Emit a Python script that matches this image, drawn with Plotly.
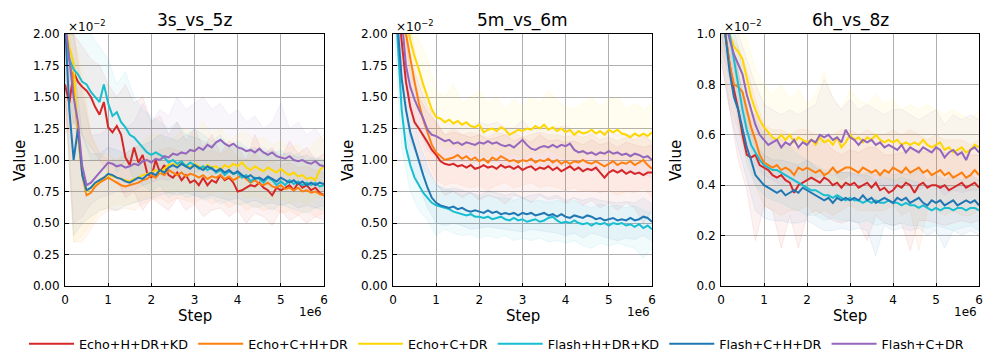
import plotly.graph_objects as go

# Step axis, one sample every 0.1e6 for the smoothed curves, 0.2e6 for the spread bands
STEPS = [i * 100000 for i in range(61)]
BAND_STEPS = [i * 200000 for i in range(31)]

SERIES_NAMES = ["Echo+H+DR+KD", "Echo+C+H+DR", "Echo+C+DR",
                "Flash+H+DR+KD", "Flash+C+H+DR", "Flash+C+DR"]
COLORS = ["#d62728", "#ff7f0e", "#ffd700", "#17becf", "#1f77b4", "#9467bd"]
BAND_RGB = ["214,39,40", "255,127,14", "255,215,0", "23,190,207", "31,119,180", "148,103,189"]
PANEL_TITLES = ["3s_vs_5z", "5m_vs_6m", "6h_vs_8z"]

# ---- 3s_vs_5z (values x1e-2) ----
A_RED = [1.60, 1.45, 1.70, 1.62, 1.58, 1.55, 1.50, 1.42, 1.36, 1.46, 1.26, 1.22, 1.27, 1.20, 1.02, 0.96,
         1.10, 0.98, 1.04, 0.90, 0.86, 1.00, 0.90, 0.96, 0.88, 0.86, 0.90, 0.84, 0.88, 0.82, 0.84, 0.80,
         0.86, 0.80, 0.84, 0.82, 0.88, 0.84, 0.86, 0.82, 0.75, 0.76, 0.78, 0.80, 0.79, 0.82, 0.78, 0.76,
         0.72, 0.78, 0.76, 0.78, 0.80, 0.76, 0.82, 0.78, 0.80, 0.76, 0.78, 0.74, 0.72]
A_ORANGE = [2.10, 1.80, 1.60, 1.20, 0.88, 0.72, 0.74, 0.79, 0.82, 0.84, 0.86, 0.84, 0.82, 0.80, 0.79, 0.80,
            0.81, 0.82, 0.84, 0.85, 0.88, 0.86, 0.90, 0.88, 0.92, 0.90, 0.88, 0.90, 0.87, 0.89, 0.88, 0.86,
            0.88, 0.85, 0.87, 0.86, 0.88, 0.85, 0.87, 0.84, 0.86, 0.88, 0.85, 0.82, 0.84, 0.81, 0.80, 0.82,
            0.79, 0.78, 0.80, 0.77, 0.78, 0.76, 0.78, 0.75, 0.76, 0.74, 0.75, 0.73, 0.72]
A_YELLOW = [2.10, 1.90, 1.76, 1.20, 0.90, 0.75, 0.78, 0.81, 0.84, 0.86, 0.88, 0.87, 0.86, 0.85, 0.84, 0.83,
            0.85, 0.86, 0.88, 0.89, 0.90, 0.92, 0.90, 0.93, 0.96, 0.97, 0.95, 0.98, 0.96, 0.94, 0.97, 0.95,
            0.93, 0.96, 0.94, 0.95, 0.92, 0.96, 0.94, 0.97, 0.95, 0.98, 0.94, 0.92, 0.95, 0.93, 0.91, 0.94,
            0.92, 0.90, 0.93, 0.90, 0.88, 0.90, 0.87, 0.88, 0.85, 0.86, 0.84, 0.92, 0.95]
A_CYAN = [2.10, 1.80, 1.72, 1.68, 1.62, 1.60, 1.54, 1.50, 1.46, 1.60, 1.45, 1.35, 1.38, 1.30, 1.26, 1.20,
          1.18, 1.14, 1.10, 1.06, 1.04, 1.06, 1.04, 1.02, 0.98, 1.00, 0.97, 0.99, 0.95, 0.98, 0.96, 0.93,
          0.95, 0.92, 0.94, 0.90, 0.92, 0.88, 0.91, 0.89, 0.90, 0.86, 0.88, 0.83, 0.86, 0.85, 0.82, 0.86,
          0.84, 0.80, 0.83, 0.80, 0.84, 0.81, 0.83, 0.80, 0.82, 0.80, 0.82, 0.79, 0.80]
A_BLUE = [2.10, 1.40, 1.00, 1.25, 0.88, 0.76, 0.78, 0.82, 0.84, 0.86, 0.89, 0.88, 0.86, 0.85, 0.83, 0.82,
          0.84, 0.86, 0.85, 0.88, 0.90, 0.88, 0.92, 0.90, 0.94, 0.96, 0.94, 0.97, 0.95, 0.93, 0.96, 0.94,
          0.92, 0.95, 0.93, 0.91, 0.93, 0.90, 0.92, 0.89, 0.91, 0.88, 0.86, 0.88, 0.85, 0.86, 0.84, 0.87,
          0.85, 0.83, 0.86, 0.84, 0.82, 0.84, 0.81, 0.83, 0.80, 0.82, 0.80, 0.82, 0.81]
A_PURPLE = [2.10, 1.80, 1.50, 1.30, 0.95, 0.80, 0.82, 0.86, 0.90, 0.94, 0.98, 0.97, 0.95, 0.96, 0.94, 0.95,
            0.97, 0.96, 0.99, 1.00, 0.98, 1.01, 1.00, 1.03, 1.02, 1.05, 1.04, 1.06, 1.05, 1.08, 1.07, 1.10,
            1.08, 1.12, 1.10, 1.14, 1.16, 1.13, 1.11, 1.13, 1.10, 1.09, 1.07, 1.08, 1.06, 1.09, 1.06, 1.04,
            1.06, 1.03, 1.02, 1.01, 1.03, 1.00, 0.99, 1.00, 0.98, 0.97, 0.99, 0.96, 0.95]

A_RED_LO = [1.2, 1.3, 1.2, 1.1, 1.0, 0.9, 0.85, 0.7, 0.75, 0.6, 0.7, 0.65, 0.6, 0.7, 0.6, 0.65,
            0.55, 0.6, 0.62, 0.55, 0.6, 0.5, 0.58, 0.55, 0.48, 0.6, 0.52, 0.56, 0.5, 0.55, 0.52]
A_RED_HI = [2.0, 2.0, 1.9, 1.8, 1.75, 1.6, 1.5, 1.6, 1.45, 1.5, 1.3, 1.35, 1.2, 1.3, 1.15, 1.25,
            1.1, 1.2, 1.05, 1.15, 1.1, 1.0, 1.2, 1.05, 1.1, 1.0, 1.15, 1.05, 1.1, 1.0, 1.05]
A_ORANGE_LO = [1.5, 0.35, 0.35, 0.45, 0.55, 0.6, 0.6, 0.62, 0.6, 0.65, 0.68, 0.7, 0.66, 0.7, 0.68, 0.66,
               0.7, 0.65, 0.68, 0.62, 0.66, 0.6, 0.64, 0.6, 0.62, 0.58, 0.6, 0.56, 0.6, 0.55, 0.58]
A_ORANGE_HI = [2.0, 2.0, 1.6, 1.2, 1.05, 1.0, 1.0, 1.05, 1.0, 1.0, 1.05, 1.08, 1.1, 1.08, 1.05, 1.1,
               1.06, 1.08, 1.04, 1.1, 1.02, 1.0, 1.05, 0.98, 1.0, 0.96, 0.98, 0.94, 0.95, 0.92, 0.9]
A_YELLOW_LO = [1.6, 0.35, 0.4, 0.5, 0.6, 0.62, 0.65, 0.64, 0.66, 0.7, 0.72, 0.75, 0.74, 0.76, 0.74, 0.77,
               0.75, 0.73, 0.76, 0.72, 0.74, 0.7, 0.72, 0.7, 0.68, 0.7, 0.66, 0.68, 0.65, 0.7, 0.72]
A_YELLOW_HI = [2.0, 2.0, 1.7, 1.2, 1.05, 1.05, 1.0, 1.05, 1.1, 1.15, 1.2, 1.2, 1.15, 1.2, 1.25, 1.2,
               1.3, 1.2, 1.25, 1.15, 1.2, 1.22, 1.15, 1.18, 1.12, 1.15, 1.1, 1.12, 1.05, 1.15, 1.2]
A_CYAN_LO = [1.6, 1.3, 1.2, 1.0, 1.0, 1.1, 0.9, 1.0, 0.85, 0.8, 0.75, 0.8, 0.7, 0.75, 0.7, 0.72,
             0.68, 0.7, 0.65, 0.68, 0.64, 0.66, 0.62, 0.64, 0.6, 0.65, 0.62, 0.6, 0.58, 0.62, 0.6]
A_CYAN_HI = [2.0, 2.0, 2.0, 2.0, 1.9, 1.8, 1.6, 1.7, 1.5, 1.4, 1.35, 1.3, 1.25, 1.3, 1.2, 1.25,
             1.2, 1.15, 1.2, 1.1, 1.15, 1.1, 1.05, 1.1, 1.05, 1.08, 1.02, 1.05, 1.0, 1.02, 1.0]
A_BLUE_LO = [1.5, 0.4, 0.5, 0.55, 0.6, 0.62, 0.6, 0.64, 0.66, 0.68, 0.7, 0.72, 0.74, 0.72, 0.74, 0.72,
             0.7, 0.72, 0.7, 0.68, 0.7, 0.66, 0.68, 0.65, 0.66, 0.64, 0.66, 0.62, 0.64, 0.62, 0.64]
A_BLUE_HI = [2.0, 1.8, 1.2, 1.05, 1.05, 1.1, 1.08, 1.05, 1.1, 1.12, 1.15, 1.2, 1.18, 1.15, 1.2, 1.18,
             1.15, 1.12, 1.15, 1.1, 1.12, 1.08, 1.1, 1.05, 1.08, 1.04, 1.06, 1.02, 1.04, 1.0, 1.0]
A_PURPLE_LO = [1.6, 0.5, 0.55, 0.65, 0.7, 0.72, 0.75, 0.74, 0.76, 0.8, 0.82, 0.85, 0.84, 0.88, 0.86, 0.9,
               0.92, 0.88, 0.9, 0.86, 0.88, 0.85, 0.84, 0.82, 0.8, 0.82, 0.78, 0.8, 0.76, 0.78, 0.75]
A_PURPLE_HI = [2.0, 2.0, 1.5, 1.2, 1.2, 1.25, 1.2, 1.25, 1.3, 1.45, 1.3, 1.4, 1.35, 1.5, 1.4, 1.45,
               1.5, 1.4, 1.45, 1.35, 1.4, 1.3, 1.35, 1.25, 1.3, 1.45, 1.25, 1.3, 1.2, 1.25, 1.15]

# ---- 5m_vs_6m (values x1e-2) ----
B_RED = [2.80, 2.30, 1.95, 1.62, 1.42, 1.30, 1.25, 1.20, 1.14, 1.08, 1.04, 0.99, 0.97, 0.96, 0.97, 0.95,
         0.96, 0.94, 0.96, 0.93, 0.94, 0.96, 0.94, 0.95, 0.93, 0.96, 0.94, 0.95, 0.93, 0.95, 0.92, 0.94,
         0.95, 0.92, 0.94, 0.93, 0.95, 0.92, 0.94, 0.91, 0.93, 0.95, 0.92, 0.94, 0.91, 0.93, 0.92, 0.94,
         0.90, 0.86, 0.90, 0.92, 0.90, 0.92, 0.89, 0.91, 0.89, 0.90, 0.88, 0.90, 0.90]
B_ORANGE = [2.90, 2.50, 2.20, 2.00, 1.80, 1.62, 1.45, 1.32, 1.22, 1.12, 1.06, 1.03, 1.00, 1.01, 1.02, 1.04,
            1.01, 1.03, 1.00, 1.02, 0.99, 1.01, 0.98, 1.02, 1.00, 1.03, 1.01, 0.99, 1.00, 0.98, 1.00, 0.99,
            1.01, 0.98, 1.00, 0.99, 1.01, 0.98, 1.00, 0.97, 0.99, 0.97, 0.99, 0.98, 1.00, 0.98, 0.97, 0.99,
            0.97, 0.95, 0.97, 0.99, 0.96, 0.98, 0.97, 0.99, 0.96, 0.98, 1.00, 0.96, 0.93]
B_YELLOW = [3.00, 2.80, 2.50, 2.15, 1.95, 1.82, 1.72, 1.60, 1.50, 1.40, 1.34, 1.33, 1.30, 1.32, 1.29, 1.31,
            1.28, 1.30, 1.27, 1.26, 1.28, 1.22, 1.24, 1.25, 1.23, 1.26, 1.24, 1.20, 1.22, 1.24, 1.23, 1.25,
            1.24, 1.27, 1.25, 1.28, 1.24, 1.26, 1.23, 1.25, 1.22, 1.24, 1.20, 1.23, 1.21, 1.22, 1.24, 1.21,
            1.23, 1.20, 1.24, 1.22, 1.24, 1.21, 1.20, 1.18, 1.21, 1.19, 1.21, 1.19, 1.22]
B_CYAN = [2.60, 2.00, 1.40, 1.10, 0.96, 0.86, 0.80, 0.74, 0.70, 0.66, 0.64, 0.63, 0.62, 0.61, 0.59, 0.58,
          0.57, 0.56, 0.57, 0.55, 0.55, 0.54, 0.55, 0.53, 0.54, 0.55, 0.53, 0.52, 0.54, 0.52, 0.53, 0.51,
          0.52, 0.53, 0.51, 0.52, 0.54, 0.55, 0.52, 0.50, 0.51, 0.50, 0.52, 0.50, 0.49, 0.50, 0.48, 0.50,
          0.49, 0.50, 0.48, 0.50, 0.49, 0.50, 0.48, 0.49, 0.47, 0.49, 0.46, 0.48, 0.45]
B_BLUE = [2.70, 2.10, 1.65, 1.40, 1.22, 1.10, 0.98, 0.88, 0.78, 0.70, 0.66, 0.64, 0.63, 0.62, 0.63, 0.61,
          0.62, 0.60, 0.59, 0.60, 0.59, 0.58, 0.60, 0.58, 0.59, 0.57, 0.58, 0.57, 0.58, 0.56, 0.58, 0.57,
          0.58, 0.56, 0.57, 0.58, 0.56, 0.57, 0.55, 0.57, 0.55, 0.54, 0.56, 0.55, 0.54, 0.56, 0.55, 0.53,
          0.54, 0.52, 0.53, 0.54, 0.52, 0.53, 0.52, 0.54, 0.52, 0.53, 0.55, 0.54, 0.51]
B_PURPLE = [2.90, 2.50, 2.10, 1.75, 1.58, 1.48, 1.40, 1.33, 1.24, 1.20, 1.19, 1.17, 1.15, 1.16, 1.13, 1.14,
            1.12, 1.14, 1.13, 1.12, 1.14, 1.13, 1.15, 1.13, 1.14, 1.12, 1.11, 1.12, 1.10, 1.13, 1.16, 1.12,
            1.09, 1.08, 1.10, 1.11, 1.10, 1.12, 1.10, 1.12, 1.11, 1.13, 1.08, 1.06, 1.07, 1.05, 1.06, 1.04,
            1.06, 1.05, 1.07, 1.05, 1.06, 1.04, 1.05, 1.03, 1.05, 1.04, 1.02, 1.03, 1.00]

B_RED_LO = [2.4, 1.6, 1.15, 1.0, 0.9, 0.82, 0.72, 0.75, 0.7, 0.74, 0.68, 0.72, 0.7, 0.65, 0.72, 0.7,
            0.66, 0.72, 0.68, 0.7, 0.66, 0.7, 0.64, 0.68, 0.62, 0.66, 0.6, 0.66, 0.62, 0.5, 0.6]
B_RED_HI = [3.0, 2.3, 1.7, 1.5, 1.38, 1.3, 1.2, 1.22, 1.2, 1.18, 1.2, 1.16, 1.18, 1.2, 1.15, 1.18,
            1.14, 1.2, 1.15, 1.16, 1.14, 1.15, 1.12, 1.16, 1.12, 1.14, 1.1, 1.14, 1.12, 1.1, 1.12]
B_ORANGE_LO = [2.5, 1.9, 1.5, 1.2, 1.0, 0.85, 0.8, 0.82, 0.8, 0.78, 0.8, 0.76, 0.8, 0.82, 0.78, 0.8,
               0.82, 0.78, 0.8, 0.78, 0.76, 0.78, 0.75, 0.76, 0.74, 0.76, 0.72, 0.75, 0.74, 0.78, 0.7]
B_ORANGE_HI = [3.0, 2.5, 2.05, 1.7, 1.45, 1.28, 1.2, 1.25, 1.2, 1.22, 1.2, 1.18, 1.22, 1.2, 1.22, 1.18,
               1.2, 1.22, 1.2, 1.2, 1.18, 1.2, 1.18, 1.2, 1.16, 1.18, 1.15, 1.18, 1.16, 1.2, 1.14]
B_YELLOW_LO = [2.6, 2.2, 1.7, 1.5, 1.3, 1.15, 1.1, 1.12, 1.08, 1.1, 1.05, 1.02, 1.08, 1.04, 1.05, 1.02,
               1.06, 1.05, 1.08, 1.04, 1.02, 1.0, 1.03, 1.05, 1.02, 1.04, 1.0, 0.98, 1.0, 0.96, 1.0]
B_YELLOW_HI = [3.0, 2.8, 2.2, 1.95, 1.8, 1.55, 1.5, 1.6, 1.45, 1.5, 1.55, 1.45, 1.5, 1.4, 1.48, 1.42,
               1.5, 1.45, 1.55, 1.48, 1.42, 1.4, 1.45, 1.5, 1.42, 1.48, 1.5, 1.4, 1.45, 1.4, 1.45]
B_CYAN_LO = [2.2, 1.1, 0.75, 0.6, 0.52, 0.4, 0.45, 0.42, 0.4, 0.41, 0.38, 0.4, 0.38, 0.4, 0.36, 0.38,
             0.36, 0.38, 0.35, 0.36, 0.34, 0.36, 0.32, 0.3, 0.34, 0.32, 0.34, 0.32, 0.3, 0.22, 0.3]
B_CYAN_HI = [3.0, 1.7, 1.2, 1.0, 0.88, 0.8, 0.78, 0.75, 0.72, 0.74, 0.7, 0.72, 0.7, 0.7, 0.68, 0.7,
             0.67, 0.68, 0.66, 0.68, 0.66, 0.68, 0.64, 0.62, 0.65, 0.63, 0.64, 0.62, 0.64, 0.6, 0.58]
B_BLUE_LO = [2.3, 1.4, 1.0, 0.8, 0.62, 0.5, 0.48, 0.5, 0.48, 0.45, 0.46, 0.47, 0.46, 0.45, 0.44, 0.43,
             0.45, 0.44, 0.43, 0.42, 0.4, 0.42, 0.38, 0.42, 0.4, 0.38, 0.36, 0.38, 0.37, 0.4, 0.36]
B_BLUE_HI = [3.0, 1.9, 1.45, 1.15, 0.95, 0.8, 0.76, 0.78, 0.76, 0.74, 0.72, 0.75, 0.74, 0.72, 0.74, 0.7,
             0.72, 0.73, 0.7, 0.72, 0.68, 0.7, 0.68, 0.7, 0.68, 0.67, 0.66, 0.67, 0.66, 0.7, 0.65]
B_PURPLE_LO = [2.5, 1.8, 1.4, 1.25, 1.08, 1.02, 1.0, 0.98, 0.99, 0.97, 1.0, 0.98, 0.99, 0.96, 0.95, 1.0,
               0.94, 0.95, 0.96, 0.95, 0.96, 0.93, 0.92, 0.91, 0.92, 0.93, 0.9, 0.91, 0.9, 0.89, 0.86]
B_PURPLE_HI = [3.0, 2.4, 1.8, 1.6, 1.42, 1.35, 1.3, 1.28, 1.3, 1.27, 1.3, 1.28, 1.3, 1.26, 1.25, 1.32,
               1.24, 1.26, 1.25, 1.26, 1.27, 1.23, 1.22, 1.21, 1.22, 1.23, 1.2, 1.2, 1.2, 1.19, 1.15]

# ---- 6h_vs_8z (values x1e-2) ----
C_RED = [1.10, 1.00, 0.88, 0.78, 0.70, 0.60, 0.52, 0.51, 0.52, 0.48, 0.47, 0.46, 0.44, 0.43, 0.44, 0.42,
         0.41, 0.37, 0.40, 0.41, 0.42, 0.43, 0.42, 0.41, 0.43, 0.42, 0.40, 0.41, 0.39, 0.41, 0.40, 0.41,
         0.39, 0.40, 0.41, 0.39, 0.41, 0.38, 0.39, 0.37, 0.38, 0.40, 0.39, 0.41, 0.40, 0.37, 0.40, 0.41,
         0.39, 0.40, 0.40, 0.39, 0.40, 0.38, 0.39, 0.40, 0.41, 0.39, 0.40, 0.41, 0.39]
C_ORANGE = [1.15, 1.00, 0.88, 0.80, 0.79, 0.77, 0.70, 0.63, 0.58, 0.52, 0.49, 0.48, 0.47, 0.48, 0.46, 0.47,
            0.46, 0.44, 0.47, 0.46, 0.47, 0.46, 0.45, 0.46, 0.44, 0.45, 0.47, 0.45, 0.46, 0.47, 0.47, 0.46,
            0.45, 0.47, 0.46, 0.45, 0.46, 0.44, 0.46, 0.45, 0.47, 0.46, 0.45, 0.47, 0.45, 0.46, 0.47, 0.45,
            0.46, 0.44, 0.45, 0.46, 0.44, 0.45, 0.43, 0.44, 0.45, 0.43, 0.44, 0.46, 0.44]
C_YELLOW = [1.20, 1.10, 1.00, 0.95, 0.93, 0.90, 0.82, 0.75, 0.70, 0.66, 0.63, 0.61, 0.59, 0.58, 0.60, 0.58,
            0.60, 0.57, 0.59, 0.58, 0.57, 0.58, 0.56, 0.59, 0.57, 0.58, 0.56, 0.59, 0.55, 0.57, 0.60, 0.58,
            0.59, 0.57, 0.59, 0.58, 0.60, 0.58, 0.57, 0.58, 0.57, 0.58, 0.56, 0.57, 0.56, 0.57, 0.56, 0.58,
            0.56, 0.55, 0.56, 0.57, 0.54, 0.55, 0.53, 0.54, 0.55, 0.53, 0.54, 0.56, 0.55]
C_CYAN = [1.20, 1.10, 1.00, 0.90, 0.80, 0.70, 0.62, 0.56, 0.53, 0.50, 0.48, 0.47, 0.46, 0.46, 0.45, 0.44,
          0.43, 0.42, 0.41, 0.40, 0.39, 0.38, 0.38, 0.37, 0.36, 0.36, 0.35, 0.36, 0.35, 0.34, 0.35, 0.34,
          0.34, 0.33, 0.34, 0.33, 0.34, 0.33, 0.33, 0.34, 0.33, 0.33, 0.32, 0.33, 0.32, 0.32, 0.31, 0.32,
          0.31, 0.30, 0.31, 0.30, 0.31, 0.31, 0.30, 0.31, 0.31, 0.30, 0.31, 0.31, 0.30]
C_BLUE = [1.10, 1.00, 0.85, 0.75, 0.70, 0.62, 0.55, 0.50, 0.44, 0.42, 0.40, 0.39, 0.38, 0.37, 0.38, 0.36,
          0.37, 0.38, 0.37, 0.39, 0.38, 0.37, 0.36, 0.35, 0.34, 0.35, 0.33, 0.35, 0.34, 0.35, 0.34, 0.35,
          0.34, 0.36, 0.34, 0.35, 0.33, 0.34, 0.35, 0.34, 0.33, 0.35, 0.34, 0.35, 0.33, 0.34, 0.35, 0.33,
          0.32, 0.34, 0.33, 0.34, 0.32, 0.33, 0.34, 0.32, 0.33, 0.34, 0.33, 0.34, 0.32]
C_PURPLE = [1.15, 1.05, 0.98, 0.92, 0.88, 0.84, 0.76, 0.70, 0.64, 0.60, 0.58, 0.56, 0.57, 0.58, 0.55, 0.57,
            0.56, 0.58, 0.55, 0.57, 0.56, 0.58, 0.57, 0.60, 0.59, 0.60, 0.58, 0.59, 0.57, 0.62, 0.59, 0.58,
            0.56, 0.58, 0.57, 0.58, 0.56, 0.57, 0.55, 0.56, 0.55, 0.54, 0.56, 0.53, 0.55, 0.54, 0.53, 0.55,
            0.54, 0.53, 0.55, 0.54, 0.51, 0.53, 0.54, 0.52, 0.53, 0.50, 0.54, 0.55, 0.53]

C_RED_LO = [0.9, 0.7, 0.5, 0.38, 0.18, 0.32, 0.3, 0.15, 0.28, 0.15, 0.28, 0.3, 0.28, 0.26, 0.25, 0.26,
            0.25, 0.18, 0.28, 0.25, 0.24, 0.25, 0.14, 0.26, 0.26, 0.25, 0.24, 0.25, 0.26, 0.25, 0.26]
C_RED_HI = [1.2, 1.0, 0.85, 0.68, 0.68, 0.62, 0.58, 0.58, 0.56, 0.54, 0.56, 0.56, 0.58, 0.54, 0.52, 0.54,
            0.53, 0.55, 0.55, 0.52, 0.52, 0.53, 0.54, 0.54, 0.53, 0.54, 0.53, 0.52, 0.54, 0.52, 0.52]
C_ORANGE_LO = [0.95, 0.72, 0.62, 0.52, 0.4, 0.32, 0.3, 0.28, 0.3, 0.3, 0.32, 0.28, 0.3, 0.28, 0.3, 0.32,
               0.3, 0.3, 0.3, 0.3, 0.32, 0.28, 0.3, 0.14, 0.3, 0.3, 0.28, 0.3, 0.28, 0.28, 0.3]
C_ORANGE_HI = [1.2, 1.0, 0.95, 0.86, 0.74, 0.64, 0.62, 0.62, 0.6, 0.62, 0.62, 0.6, 0.58, 0.6, 0.62, 0.62,
               0.6, 0.62, 0.6, 0.6, 0.62, 0.6, 0.62, 0.6, 0.58, 0.6, 0.58, 0.58, 0.58, 0.56, 0.58]
C_YELLOW_LO = [1.0, 0.85, 0.78, 0.65, 0.55, 0.48, 0.45, 0.46, 0.45, 0.44, 0.42, 0.43, 0.44, 0.42, 0.4, 0.45,
               0.44, 0.42, 0.44, 0.43, 0.42, 0.41, 0.42, 0.41, 0.42, 0.4, 0.4, 0.39, 0.4, 0.38, 0.4]
C_YELLOW_HI = [1.2, 1.1, 1.05, 0.98, 0.86, 0.8, 0.76, 0.8, 0.74, 0.78, 0.72, 0.76, 0.85, 0.74, 0.7, 0.78,
               0.74, 0.72, 0.76, 0.72, 0.74, 0.7, 0.72, 0.7, 0.72, 0.7, 0.68, 0.7, 0.68, 0.66, 0.7]
C_CYAN_LO = [1.0, 0.85, 0.65, 0.48, 0.4, 0.36, 0.34, 0.33, 0.31, 0.3, 0.28, 0.28, 0.26, 0.27, 0.26, 0.26,
             0.25, 0.26, 0.24, 0.25, 0.24, 0.25, 0.24, 0.24, 0.23, 0.24, 0.23, 0.22, 0.23, 0.24, 0.22]
C_CYAN_HI = [1.2, 1.1, 0.95, 0.76, 0.66, 0.6, 0.58, 0.56, 0.55, 0.52, 0.5, 0.48, 0.46, 0.46, 0.45, 0.45,
             0.44, 0.44, 0.42, 0.43, 0.42, 0.43, 0.42, 0.41, 0.4, 0.4, 0.4, 0.39, 0.4, 0.4, 0.38]
C_BLUE_LO = [0.9, 0.7, 0.55, 0.42, 0.3, 0.27, 0.26, 0.26, 0.25, 0.25, 0.26, 0.24, 0.22, 0.22, 0.23, 0.22,
             0.23, 0.22, 0.12, 0.24, 0.22, 0.23, 0.22, 0.23, 0.2, 0.22, 0.15, 0.22, 0.2, 0.22, 0.2]
C_BLUE_HI = [1.2, 1.0, 0.85, 0.68, 0.56, 0.52, 0.5, 0.5, 0.49, 0.48, 0.5, 0.47, 0.45, 0.44, 0.45, 0.45,
             0.44, 0.45, 0.44, 0.46, 0.44, 0.45, 0.44, 0.46, 0.42, 0.44, 0.42, 0.44, 0.42, 0.44, 0.42]
C_PURPLE_LO = [0.95, 0.82, 0.72, 0.6, 0.48, 0.44, 0.42, 0.4, 0.42, 0.4, 0.42, 0.43, 0.44, 0.45, 0.42, 0.44,
               0.41, 0.42, 0.41, 0.4, 0.4, 0.41, 0.4, 0.38, 0.4, 0.4, 0.36, 0.38, 0.37, 0.38, 0.38]
C_PURPLE_HI = [1.2, 1.1, 1.0, 0.9, 0.8, 0.72, 0.7, 0.68, 0.7, 0.68, 0.7, 0.72, 0.82, 0.75, 0.7, 0.74,
               0.7, 0.72, 0.7, 0.68, 0.7, 0.7, 0.68, 0.66, 0.68, 0.7, 0.64, 0.68, 0.66, 0.68, 0.66]

PANEL_DATA = [
    [A_RED, A_ORANGE, A_YELLOW, A_CYAN, A_BLUE, A_PURPLE],
    [B_RED, B_ORANGE, B_YELLOW, B_CYAN, B_BLUE, B_PURPLE],
    [C_RED, C_ORANGE, C_YELLOW, C_CYAN, C_BLUE, C_PURPLE],
]
PANEL_LO = [
    [A_RED_LO, A_ORANGE_LO, A_YELLOW_LO, A_CYAN_LO, A_BLUE_LO, A_PURPLE_LO],
    [B_RED_LO, B_ORANGE_LO, B_YELLOW_LO, B_CYAN_LO, B_BLUE_LO, B_PURPLE_LO],
    [C_RED_LO, C_ORANGE_LO, C_YELLOW_LO, C_CYAN_LO, C_BLUE_LO, C_PURPLE_LO],
]
PANEL_HI = [
    [A_RED_HI, A_ORANGE_HI, A_YELLOW_HI, A_CYAN_HI, A_BLUE_HI, A_PURPLE_HI],
    [B_RED_HI, B_ORANGE_HI, B_YELLOW_HI, B_CYAN_HI, B_BLUE_HI, B_PURPLE_HI],
    [C_RED_HI, C_ORANGE_HI, C_YELLOW_HI, C_CYAN_HI, C_BLUE_HI, C_PURPLE_HI],
]
Y_MAX = [2.0, 2.0, 1.0]
Y_TICKS = [[0, 0.25, 0.5, 0.75, 1.0, 1.25, 1.5, 1.75, 2.0],
           [0, 0.25, 0.5, 0.75, 1.0, 1.25, 1.5, 1.75, 2.0],
           [0, 0.2, 0.4, 0.6, 0.8, 1.0]]
Y_FMT = [".2f", ".2f", ".1f"]
X_TICKS = [0, 1, 2, 3, 4, 5, 6]

# the page body keeps an 8px margin, so the figure is shrunk and coordinates shifted
OFF = 8
W, H = 997 - 2 * OFF, 363 - 2 * OFF
BOXES = [(65, 324), (393, 652), (721, 979)]   # plot areas in window pixels
TOP, BOTTOM = 34, 286
FONT = "DejaVu Sans, Arial, sans-serif"


def px(x):
    return (x - OFF) / W


def py(y):
    return 1 - (y - OFF) / H


fig = go.Figure()
annotations = []

for p in range(3):
    ax = "" if p == 0 else str(p + 1)
    # faint spread bands first
    for s in range(6):
        fig.add_trace(go.Scatter(
            x=BAND_STEPS, y=PANEL_LO[p][s], mode="lines",
            line=dict(width=0.6, color="rgba(%s,0.15)" % BAND_RGB[s]),
            showlegend=False, hoverinfo="skip",
            xaxis="x" + ax, yaxis="y" + ax,
        ))
        fig.add_trace(go.Scatter(
            x=BAND_STEPS, y=PANEL_HI[p][s], mode="lines",
            line=dict(width=0.6, color="rgba(%s,0.15)" % BAND_RGB[s]),
            fill="tonexty", fillcolor="rgba(%s,0.06)" % BAND_RGB[s],
            showlegend=False, hoverinfo="skip",
            xaxis="x" + ax, yaxis="y" + ax,
        ))
    for s in range(6):
        fig.add_trace(go.Scatter(
            x=STEPS, y=PANEL_DATA[p][s],
            mode="lines",
            line=dict(color=COLORS[s], width=2),
            name=SERIES_NAMES[s],
            legendgroup=SERIES_NAMES[s],
            showlegend=(p == 0),
            xaxis="x" + ax, yaxis="y" + ax,
        ))

    x0, x1 = BOXES[p]
    axis_common = dict(
        showline=True, linecolor="black", linewidth=1, mirror=True,
        showgrid=True, gridcolor="#b0b0b0", gridwidth=1,
        ticks="inside", ticklen=3.5, tickcolor="black",
        tickfont=dict(family=FONT, size=12, color="black"),
        zeroline=False,
    )
    fig.update_layout(**{
        "xaxis" + ax: dict(
            domain=[px(x0), px(x1)], anchor="y" + ax,
            range=[0, 6000000],
            tickvals=[t * 1000000 for t in X_TICKS],
            ticktext=[str(t) for t in X_TICKS],
            ticklabelstandoff=3,
            **axis_common,
        ),
        "yaxis" + ax: dict(
            domain=[py(BOTTOM), py(TOP)], anchor="x" + ax,
            range=[0, Y_MAX[p]],
            tickvals=Y_TICKS[p],
            tickformat=Y_FMT[p],
            ticklabelstandoff=2,
            **axis_common,
        ),
    })

    cx = (x0 + x1) / 2
    annotations += [
        dict(text=PANEL_TITLES[p], x=px(cx), y=py(21), xref="paper", yref="paper",
             xanchor="center", yanchor="middle",
             showarrow=False, font=dict(family=FONT, size=17, color="black")),
        dict(text="×10<sup>−2</sup>", x=px(x0 + 1), y=py(26), xref="paper", yref="paper",
             xanchor="left", yanchor="middle",
             showarrow=False, font=dict(family=FONT, size=12, color="black")),
        dict(text="1e6", x=px(x1), y=py(312), xref="paper", yref="paper",
             xanchor="right", yanchor="middle",
             showarrow=False, font=dict(family=FONT, size=12, color="black")),
        dict(text="Step", x=px(cx), y=py(316), xref="paper", yref="paper",
             xanchor="center", yanchor="middle",
             showarrow=False, font=dict(family=FONT, size=15, color="black")),
        dict(text="Value", x=px(x0 - 45), y=py(161), xref="paper", yref="paper",
             xanchor="center", yanchor="middle", textangle=-90,
             showarrow=False, font=dict(family=FONT, size=15, color="black")),
    ]

fig.update_layout(
    width=W, height=H,
    margin=dict(l=0, r=0, t=0, b=0, autoexpand=False),
    paper_bgcolor="white", plot_bgcolor="white",
    annotations=annotations,
    legend=dict(
        orientation="h", x=px(24), xanchor="left", y=py(344), yanchor="middle",
        font=dict(family=FONT, size=12.7, color="black"),
        itemwidth=45, tracegroupgap=0,
    ),
    font=dict(family=FONT, color="black"),
)

fig.write_html("out.html")
